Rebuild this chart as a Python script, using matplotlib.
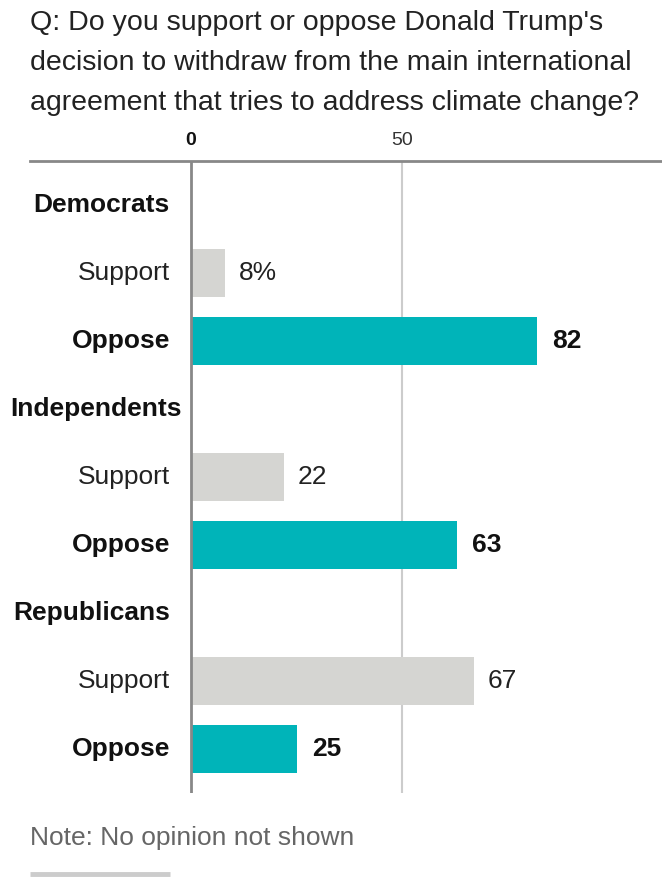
import matplotlib.pyplot as plt

plt.rcParams['font.family'] = ['Liberation Sans', 'DejaVu Sans']

# Data
groups = ['Democrats', 'Independents', 'Republicans']
support = [8, 22, 67]
oppose = [82, 63, 25]
support_labels = ['8%', '22', '67']
oppose_labels = ['82', '63', '25']

title_lines = ["Q: Do you support or oppose Donald Trump's",
               "decision to withdraw from the main international",
               "agreement that tries to address climate change?"]
note = 'Note: No opinion not shown'

teal = '#00b4b9'
grey = '#d5d5d2'

fig = plt.figure(figsize=(6.62, 8.90), dpi=100)
W, H = 662, 890
# axes in pixel terms: left 30, right 662, top 161, bottom 793
ax = fig.add_axes([30 / W, 1 - 793 / H, (662 - 30) / W, (793 - 161) / H])

px_per_unit = (402 - 191) / 50
ax.set_xlim(-(191 - 30) / px_per_unit, (662 - 191) / px_per_unit)
ax.set_ylim(8.65, -0.647)

fs = 19
headers = []
for i, g in enumerate(groups):
    y0 = i * 3
    headers.append(ax.text(-5, y0, g, ha='right', va='center', fontsize=fs,
                           fontweight='bold', color='#111111'))
    ax.barh(y0 + 1, support[i], height=0.7, color=grey, zorder=2)
    ax.barh(y0 + 2, oppose[i], height=0.7, color=teal, zorder=2)
    ax.text(-5, y0 + 1, 'Support', ha='right', va='center', fontsize=fs, color='#222222')
    ax.text(-5, y0 + 2, 'Oppose', ha='right', va='center', fontsize=fs, fontweight='bold', color='#111111')
    ax.text(support[i] + 3.3, y0 + 1, support_labels[i], ha='left', va='center', fontsize=fs, color='#222222')
    ax.text(oppose[i] + 3.6, y0 + 2, oppose_labels[i], ha='left', va='center', fontsize=fs,
            fontweight='bold', color='#111111')

# gridlines
ax.axvline(0, color='#888888', lw=2, zorder=3)
ax.axvline(50, color='#cccccc', lw=1.5, zorder=1)

ax.set_xticks([])
ax.set_yticks([])
for s in ['left', 'right', 'bottom']:
    ax.spines[s].set_visible(False)
ax.spines['top'].set_color('#888888')
ax.spines['top'].set_linewidth(2)

ax.text(0, -0.95, '0', ha='center', va='center', fontsize=14, fontweight='bold', color='#111111')
ax.text(50, -0.95, '50', ha='center', va='center', fontsize=14, color='#333333')

for k, line in enumerate(title_lines):
    fig.text(30 / W, 1 - (30 + 40 * k) / H, line, ha='left', va='baseline', fontsize=20.5, color='#222222')
fig.text(30 / W, 1 - 838 / H, note, ha='left', va='center', fontsize=19, color='#666666')
fig.add_artist(plt.Line2D([30 / W, 170 / W], [1 - 874 / H, 1 - 874 / H], color='#cccccc', lw=3.5,
                          solid_capstyle='butt'))

# long group labels are pushed right so they stay inside the figure
renderer = fig.canvas.get_renderer()
for t in headers:
    bb = t.get_window_extent(renderer)
    if bb.x0 < 10:
        t.set_x(t.get_position()[0] + (10 - bb.x0) / px_per_unit)

fig.savefig('out.png', dpi=100)
